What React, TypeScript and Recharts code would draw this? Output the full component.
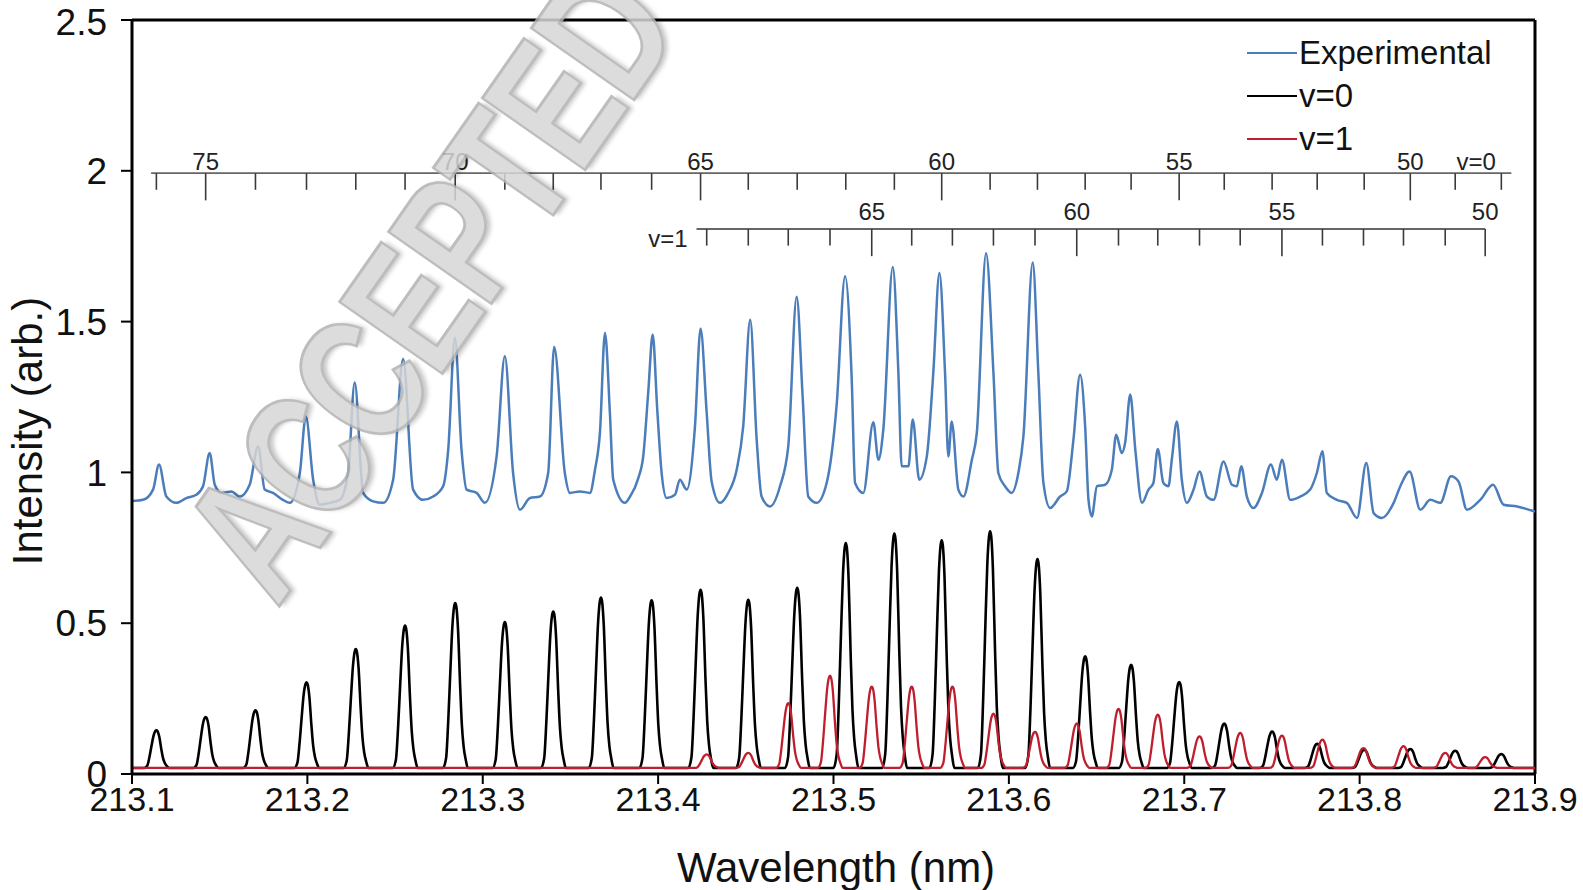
import React from 'react';
import { LineChart, Line, XAxis, YAxis, ReferenceLine, ReferenceDot } from 'recharts';

const FONT = '"Liberation Sans", Arial, Helvetica, sans-serif';

const X_TICKS = [213.1, 213.2, 213.3, 213.4, 213.5, 213.6, 213.7, 213.8, 213.9];
const Y_TICKS = [0, 0.5, 1, 1.5, 2, 2.5];

// experimental trace as [wavelength nm, intensity]
const EXPERIMENTAL: [number, number][] = [
  [213.1, 0.905], [213.1063, 0.909], [213.112, 0.943], [213.1154, 1.026], [213.1196, 0.92],
  [213.1253, 0.899], [213.131, 0.915], [213.1367, 0.926], [213.1405, 0.954], [213.1443, 1.064],
  [213.1472, 0.959], [213.151, 0.932], [213.1567, 0.937], [213.1614, 0.92], [213.1671, 0.959],
  [213.1719, 1.086], [213.1757, 0.943], [213.1804, 0.932], [213.1861, 0.909], [213.19, 0.899],
  [213.1957, 0.998], [213.1991, 1.186], [213.2033, 0.976], [213.2071, 0.893], [213.2128, 0.899],
  [213.2185, 0.909], [213.2232, 0.998], [213.227, 1.298], [213.2318, 0.932], [213.2375, 0.904],
  [213.2432, 0.899], [213.2489, 0.976], [213.2546, 1.376], [213.2603, 0.943], [213.266, 0.909],
  [213.2717, 0.92], [213.2774, 0.954], [213.2803, 1.075], [213.2841, 1.446], [213.2879, 1.075],
  [213.2908, 0.943], [213.2965, 0.932], [213.3012, 0.899], [213.3079, 1.053], [213.3126, 1.385],
  [213.3173, 0.998], [213.3212, 0.876], [213.3269, 0.915], [213.3326, 0.92], [213.3373, 0.998],
  [213.3407, 1.416], [213.3468, 0.998], [213.3497, 0.932], [213.3554, 0.937], [213.3611, 0.932],
  [213.364, 1.009], [213.3668, 1.13], [213.3697, 1.462], [213.3725, 1.197], [213.3744, 0.976],
  [213.3811, 0.899], [213.384, 0.92], [213.3887, 0.981], [213.3915, 1.053], [213.3944, 1.269],
  [213.3969, 1.457], [213.3995, 1.208], [213.402, 0.998], [213.4049, 0.915], [213.4096, 0.926],
  [213.4124, 0.976], [213.4163, 0.943], [213.421, 1.152], [213.4242, 1.476], [213.4277, 1.197],
  [213.4305, 0.97], [213.4353, 0.899], [213.44, 0.932], [213.4448, 1.009], [213.4485, 1.152],
  [213.4525, 1.506], [213.4562, 1.108], [213.459, 0.92], [213.4638, 0.887], [213.4695, 0.954],
  [213.4742, 1.086], [213.479, 1.582], [213.4824, 1.252], [213.4856, 0.92], [213.4904, 0.899],
  [213.4961, 0.965], [213.5018, 1.224], [213.5066, 1.65], [213.5104, 1.307], [213.5123, 0.965],
  [213.517, 0.932], [213.5227, 1.166], [213.5256, 1.042], [213.5284, 1.142], [213.5338, 1.681],
  [213.537, 1.33], [213.5389, 1.02], [213.5427, 1.02], [213.5452, 1.175], [213.5489, 0.976],
  [213.5532, 1.053], [213.5569, 1.33], [213.5604, 1.661], [213.5636, 1.33], [213.5655, 1.053],
  [213.5674, 1.169], [213.5712, 0.943], [213.5741, 0.92], [213.5789, 1.042], [213.5817, 1.13],
  [213.587, 1.727], [213.5912, 1.33], [213.594, 0.998], [213.5978, 0.954], [213.6016, 0.932],
  [213.6054, 0.998], [213.6083, 1.12], [213.6136, 1.696], [213.6168, 1.33], [213.6197, 0.965],
  [213.6235, 0.882], [213.6292, 0.92], [213.633, 0.937], [213.6368, 1.108], [213.6406, 1.324],
  [213.6435, 1.152], [213.6454, 0.909], [213.6473, 0.854], [213.6502, 0.954], [213.6549, 0.959],
  [213.6587, 1.009], [213.6612, 1.125], [213.6644, 1.064], [213.6663, 1.098], [213.6692, 1.258],
  [213.6721, 1.075], [213.6759, 0.899], [213.6796, 0.943], [213.6824, 0.965], [213.6849, 1.078],
  [213.6881, 0.965], [213.691, 0.954], [213.6929, 1.042], [213.6958, 1.169], [213.6986, 0.976],
  [213.7015, 0.899], [213.7053, 0.943], [213.7087, 1.003], [213.7129, 0.92], [213.7167, 0.909],
  [213.7224, 1.036], [213.7272, 0.959], [213.73, 0.954], [213.7325, 1.02], [213.7357, 0.92],
  [213.7395, 0.882], [213.7443, 0.932], [213.7494, 1.026], [213.7528, 0.976], [213.7557, 1.042],
  [213.7604, 0.909], [213.7661, 0.92], [213.7718, 0.943], [213.7756, 0.998], [213.7788, 1.07],
  [213.7813, 0.932], [213.787, 0.909], [213.7927, 0.899], [213.7985, 0.849], [213.8038, 1.031],
  [213.808, 0.865], [213.8127, 0.849], [213.8194, 0.899], [213.8232, 0.954], [213.8285, 1.003],
  [213.8346, 0.876], [213.8403, 0.909], [213.846, 0.899], [213.8521, 0.987], [213.8564, 0.97],
  [213.8612, 0.876], [213.8688, 0.909], [213.8761, 0.959], [213.8821, 0.893], [213.8898, 0.887],
  [213.9, 0.87],
];

// simulated v=0 band: rotational line J, centre (nm), peak height
const V0_J = [76, 75, 74, 73, 72, 71, 70, 69, 68, 67, 66, 65, 64, 63, 62, 61, 60, 59, 58, 57, 56, 55, 54, 53, 52, 51, 50, 49, 48];
const V0_CENTERS = [
  213.1139, 213.142, 213.1704, 213.1995, 213.2276, 213.2557, 213.2843, 213.3126, 213.3402, 213.3674,
  213.3963, 213.4242, 213.4514, 213.4793, 213.507, 213.5347, 213.5617, 213.5893, 213.6163, 213.6435,
  213.6697, 213.6971, 213.7228, 213.7501, 213.7758, 213.8026, 213.8289, 213.8545, 213.8808,
];
const V0_HEIGHTS = [
  0.145, 0.189, 0.211, 0.304, 0.414, 0.492, 0.567, 0.504, 0.539, 0.585,
  0.576, 0.611, 0.578, 0.617, 0.766, 0.797, 0.775, 0.805, 0.713, 0.39,
  0.362, 0.305, 0.167, 0.141, 0.1, 0.08, 0.083, 0.077, 0.066,
];

// simulated v=1 band
const V1_J = [69, 68, 67, 66, 65, 64, 63, 62, 61, 60, 59, 58, 57, 56, 55, 54, 53, 52, 51, 50];
const V1_CENTERS = [
  213.4277, 213.4514, 213.4742, 213.498, 213.5218, 213.5446, 213.5678, 213.5912, 213.6149, 213.6387,
  213.6625, 213.6849, 213.7087, 213.7319, 213.7557, 213.7788, 213.8022, 213.825, 213.8488, 213.8716,
];
const V1_HEIGHTS = [
  0.065, 0.07, 0.235, 0.326, 0.29, 0.29, 0.29, 0.2, 0.14, 0.167,
  0.216, 0.197, 0.125, 0.136, 0.127, 0.114, 0.086, 0.092, 0.07, 0.056,
];

// one simulated line shape (offset nm, fraction of peak)
const PEAK_OFFSETS = [-0.007, -0.0052, -0.004, -0.0028, -0.0016, -0.0006, 0, 0.0006, 0.0016, 0.0028, 0.0038, 0.0048, 0.006, 0.0072];
const PEAK_PROFILE = [0, 0.06, 0.28, 0.58, 0.86, 0.98, 1, 0.98, 0.84, 0.5, 0.26, 0.13, 0.05, 0];
const BASELINE = 0.02;

// comb annotation settings (data units)
const V0_COMB_Y = 1.992;
const V0_COMB_RANGE = [213.1109, 213.8865];
const V0_LABELS = [75, 70, 65, 60, 55, 50];
const V1_COMB_Y = 1.807;
const V1_COMB_RANGE = [213.4219, 213.8716];
const V1_LABELS = [65, 60, 55, 50];
const MAJOR_TICK = 0.09;
const MINOR_TICK = 0.055;

const LEGEND_ITEMS = [
  { name: 'Experimental', color: '#4A7DBA' },
  { name: 'v=0', color: '#000000' },
  { name: 'v=1', color: '#BF1E2E' },
];

const buildSpectrum = (centers: number[], heights: number[]) => {
  const pts: { x: number; y: number }[] = [{ x: 213.1, y: BASELINE }];
  centers.forEach((c, i) => {
    PEAK_OFFSETS.forEach((o, k) => {
      pts.push({ x: c + o, y: BASELINE + (heights[i] - BASELINE) * PEAK_PROFILE[k] });
    });
  });
  pts.push({ x: 213.9, y: BASELINE });
  return pts;
};

const expData = EXPERIMENTAL.map(([x, y]) => ({ x, y }));
const v0Data = buildSpectrum(V0_CENTERS, V0_HEIGHTS);
const v1Data = buildSpectrum(V1_CENTERS, V1_HEIGHTS);

const combTicks = (prefix: string, js: number[], centers: number[], y: number) =>
  centers.map((c, i) => (
    <ReferenceLine
      key={`${prefix}-${js[i]}`}
      segment={[{ x: c, y }, { x: c, y: y - (js[i] % 5 === 0 ? MAJOR_TICK : MINOR_TICK) }]}
      stroke="#3a3a3a"
      strokeWidth={1.6}
    />
  ));

const combLabels = (prefix: string, labels: number[], js: number[], centers: number[], y: number, offset: number) =>
  labels.map((j) => (
    <ReferenceDot
      key={`${prefix}-lab-${j}`}
      x={centers[js.indexOf(j)]}
      y={y}
      r={0}
      fill="none"
      stroke="none"
      label={{ value: String(j), position: 'top', offset, fontSize: 24, fill: '#222', fontFamily: FONT }}
    />
  ));

export default function App() {
  return (
    <div style={{ position: 'absolute', left: 0, top: 0, width: 1583, height: 890, background: '#fff', fontFamily: FONT }}>
      <LineChart width={1583} height={890} margin={{ top: 20, right: 48, bottom: 56, left: 0 }}>
        <XAxis
          type="number"
          dataKey="x"
          domain={[213.1, 213.9]}
          ticks={X_TICKS}
          allowDataOverflow
          tickFormatter={(v: number) => v.toFixed(1)}
          height={60}
          tickSize={10}
          tickMargin={3}
          axisLine={{ stroke: '#000', strokeWidth: 3 }}
          tickLine={{ stroke: '#000', strokeWidth: 2 }}
          tick={{ fill: '#111', fontSize: 34, fontFamily: FONT }}
        />
        <YAxis
          type="number"
          domain={[0, 2.5]}
          ticks={Y_TICKS}
          allowDataOverflow
          width={132}
          tickSize={11}
          tickMargin={14}
          tickFormatter={(v: number) => String(v)}
          axisLine={{ stroke: '#000', strokeWidth: 3 }}
          tickLine={{ stroke: '#000', strokeWidth: 2 }}
          tick={{ fill: '#111', fontSize: 37, fontFamily: FONT }}
        />
        <ReferenceLine y={2.5} stroke="#000" strokeWidth={3} />
        <ReferenceLine x={213.9} stroke="#000" strokeWidth={3} />

        <ReferenceLine segment={[{ x: V0_COMB_RANGE[0], y: V0_COMB_Y }, { x: V0_COMB_RANGE[1], y: V0_COMB_Y }]} stroke="#666" strokeWidth={1.8} />
        {combTicks('v0', V0_J, V0_CENTERS, V0_COMB_Y)}
        {combLabels('v0', V0_LABELS, V0_J, V0_CENTERS, V0_COMB_Y, 3)}
        <ReferenceDot
          x={213.8665}
          y={V0_COMB_Y}
          r={0}
          fill="none"
          stroke="none"
          label={{ value: 'v=0', position: 'top', offset: 3, fontSize: 24, fill: '#222', fontFamily: FONT }}
        />

        <ReferenceLine segment={[{ x: V1_COMB_RANGE[0], y: V1_COMB_Y }, { x: V1_COMB_RANGE[1], y: V1_COMB_Y }]} stroke="#666" strokeWidth={1.8} />
        {combTicks('v1', V1_J, V1_CENTERS, V1_COMB_Y)}
        {combLabels('v1', V1_LABELS, V1_J, V1_CENTERS, V1_COMB_Y, 9)}
        <ReferenceDot
          x={V1_COMB_RANGE[0]}
          y={V1_COMB_Y - 0.03}
          r={0}
          fill="none"
          stroke="none"
          label={{ value: 'v=1', position: 'left', offset: 9, fontSize: 24, fill: '#222', fontFamily: FONT }}
        />

        <Line data={expData} dataKey="y" type="monotone" stroke={LEGEND_ITEMS[0].color} strokeWidth={2.5} dot={false} isAnimationActive={false} />
        <Line data={v0Data} dataKey="y" type="monotone" stroke={LEGEND_ITEMS[1].color} strokeWidth={2.6} dot={false} isAnimationActive={false} />
        <Line data={v1Data} dataKey="y" type="monotone" stroke={LEGEND_ITEMS[2].color} strokeWidth={2.3} dot={false} isAnimationActive={false} />
      </LineChart>

      {/* legend */}
      <div style={{ position: 'absolute', left: 1247, top: 31, fontSize: 33, color: '#111' }}>
        {LEGEND_ITEMS.map((item) => (
          <div key={item.name} style={{ display: 'flex', alignItems: 'center', height: 43 }}>
            <span style={{ display: 'inline-block', width: 50, borderTop: `2px solid ${item.color}`, marginRight: 2 }} />
            <span>{item.name}</span>
          </div>
        ))}
      </div>

      {/* axis titles */}
      <div style={{ position: 'absolute', left: 836, top: 868, transform: 'translate(-50%, -50%)', fontSize: 42, color: '#111', whiteSpace: 'nowrap' }}>
        Wavelength (nm)
      </div>
      <div style={{ position: 'absolute', left: 28, top: 431, transform: 'translate(-50%, -50%) rotate(-90deg)', fontSize: 42, color: '#111', whiteSpace: 'nowrap' }}>
        Intensity (arb.)
      </div>

      {/* watermark */}
      <div
        style={{
          position: 'absolute',
          left: 428,
          top: 284,
          transform: 'translate(-50%, -50%) rotate(-55deg) scale(0.74, 1)',
          fontSize: 182,
          fontWeight: 700,
          letterSpacing: -6,
          color: '#d6d6d6',
          WebkitTextStroke: '3px #b2b2b2',
          textShadow: '4px 4px 5px rgba(0,0,0,0.25)',
          opacity: 0.85,
          whiteSpace: 'nowrap',
          pointerEvents: 'none',
        }}
      >
        ACCEPTED
      </div>
    </div>
  );
}
